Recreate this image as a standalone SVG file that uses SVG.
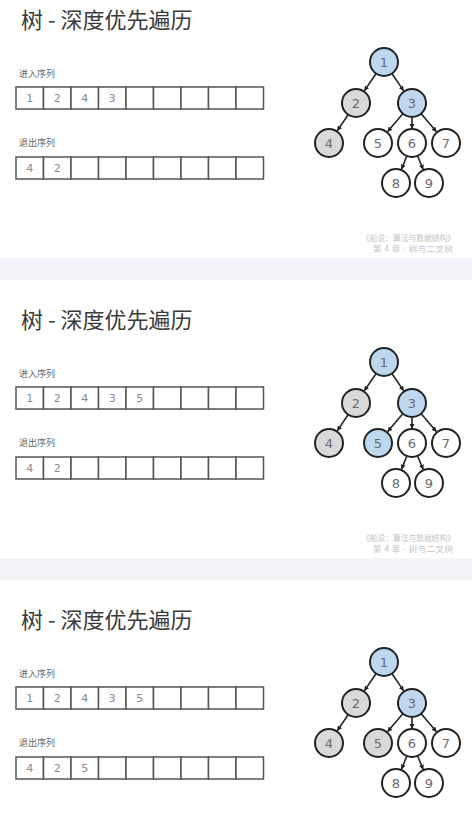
<svg xmlns="http://www.w3.org/2000/svg" width="472" height="817" viewBox="0 0 472 817">
<defs>
<style>
.title{font-family:"Noto Sans CJK SC","Noto Sans",sans-serif;font-size:22px;fill:#3a3a3a}
.lbl{font-family:"Noto Sans CJK SC","Noto Sans",sans-serif;font-size:9px;fill:#666}
.cell{fill:#fff;stroke:#555;stroke-width:1.5}
.cv{font-family:"DejaVu Sans",sans-serif;font-size:11px;fill:#8a8a8a;text-anchor:middle}
.nd{stroke:#222;stroke-width:2;fill:#fff}
.blue{fill:#bdd7ee}
.gray{fill:#d9d9d9}
.nt{font-family:"DejaVu Sans",sans-serif;font-size:13px;fill:#6a6a6a;text-anchor:middle}
.edge{stroke:#222;stroke-width:1.6;fill:none;marker-end:url(#ah)}
.foot{font-family:"Noto Sans CJK SC",serif;font-size:8.5px;fill:#c4c4c4;text-anchor:end}
.band{fill:#f4f5f9}
</style>
<marker id="ah" markerWidth="5" markerHeight="5" refX="4.5" refY="2.5" orient="auto" markerUnits="userSpaceOnUse">
<path d="M0,0 L5,2.5 L0,5 z" fill="#222"/>
</marker>
<g id="cells9">
<rect class="cell" x="16" y="0" width="27.5" height="22"/>
<rect class="cell" x="43.5" y="0" width="27.5" height="22"/>
<rect class="cell" x="71" y="0" width="27.5" height="22"/>
<rect class="cell" x="98.5" y="0" width="27.5" height="22"/>
<rect class="cell" x="126" y="0" width="27.5" height="22"/>
<rect class="cell" x="153.5" y="0" width="27.5" height="22"/>
<rect class="cell" x="181" y="0" width="27.5" height="22"/>
<rect class="cell" x="208.5" y="0" width="27.5" height="22"/>
<rect class="cell" x="236" y="0" width="27.5" height="22"/>
</g>
<g id="edges">
<line class="edge" x1="375.8" y1="74" x2="364.5" y2="90.6"/>
<line class="edge" x1="392.2" y1="74" x2="403.5" y2="90.6"/>
<line class="edge" x1="347.9" y1="115" x2="337.4" y2="130.6"/>
<line class="edge" x1="402.6" y1="114" x2="387.7" y2="131.6"/>
<line class="edge" x1="412" y1="117.5" x2="412" y2="128.5"/>
<line class="edge" x1="421.4" y1="114" x2="436.3" y2="131.6"/>
<line class="edge" x1="406.6" y1="156.5" x2="401.6" y2="169.1"/>
<line class="edge" x1="417.7" y1="156.3" x2="423.1" y2="169.2"/>
</g>
</defs>
<rect x="0" y="0" width="472" height="817" fill="#fff"/>
<rect class="band" x="0" y="258" width="472" height="22"/>
<rect class="band" x="0" y="558" width="472" height="22"/>

<!-- Panel 1 -->
<g id="panel1">
<text class="title" x="21" y="28">树 - 深度优先遍历</text>
<text class="lbl" x="19" y="76.5">进入序列</text>
<use href="#cells9" y="87"/>
<g class="cv"><text x="29.75" y="102">1</text><text x="57.25" y="102">2</text><text x="84.75" y="102">4</text><text x="112.25" y="102">3</text></g>
<text class="lbl" x="19" y="145.5">退出序列</text>
<use href="#cells9" y="157"/>
<g class="cv"><text x="29.75" y="172">4</text><text x="57.25" y="172">2</text></g>
<g id="p1-connectors"><use href="#edges"/></g>
<g id="p1-n1"><circle class="nd blue" cx="384" cy="62" r="14"/><text class="nt" x="384" y="66.5">1</text></g>
<g id="p1-n2"><circle class="nd gray" cx="356" cy="103" r="14"/><text class="nt" x="356" y="107.5">2</text></g>
<g id="p1-n3"><circle class="nd blue" cx="412" cy="103" r="14"/><text class="nt" x="412" y="107.5">3</text></g>
<g id="p1-n4"><circle class="nd gray" cx="329" cy="143" r="14"/><text class="nt" x="329" y="147.5">4</text></g>
<g id="p1-n5"><circle class="nd" cx="378" cy="143" r="14"/><text class="nt" x="378" y="147.5">5</text></g>
<g id="p1-n6"><circle class="nd" cx="412" cy="143" r="14"/><text class="nt" x="412" y="147.5">6</text></g>
<g id="p1-n7"><circle class="nd" cx="446" cy="143" r="14"/><text class="nt" x="446" y="147.5">7</text></g>
<g id="p1-n8"><circle class="nd" cx="396" cy="183" r="14"/><text class="nt" x="396" y="187.5">8</text></g>
<g id="p1-n9"><circle class="nd" cx="429" cy="183" r="14"/><text class="nt" x="429" y="187.5">9</text></g>
<text class="foot" x="455" y="241" textLength="93" lengthAdjust="spacingAndGlyphs">《船说：算法与数据结构》</text>
<text class="foot" x="453" y="252" textLength="80" lengthAdjust="spacing">第 4 章 - 树与二叉树</text>
</g>

<!-- Panel 2 -->
<g id="panel2" transform="translate(0,300)">
<text class="title" x="21" y="28">树 - 深度优先遍历</text>
<text class="lbl" x="19" y="76.5">进入序列</text>
<use href="#cells9" y="87"/>
<g class="cv"><text x="29.75" y="102">1</text><text x="57.25" y="102">2</text><text x="84.75" y="102">4</text><text x="112.25" y="102">3</text><text x="139.75" y="102">5</text></g>
<text class="lbl" x="19" y="145.5">退出序列</text>
<use href="#cells9" y="157"/>
<g class="cv"><text x="29.75" y="172">4</text><text x="57.25" y="172">2</text></g>
<g id="p2-connectors"><use href="#edges"/></g>
<g id="p2-n1"><circle class="nd blue" cx="384" cy="62" r="14"/><text class="nt" x="384" y="66.5">1</text></g>
<g id="p2-n2"><circle class="nd gray" cx="356" cy="103" r="14"/><text class="nt" x="356" y="107.5">2</text></g>
<g id="p2-n3"><circle class="nd blue" cx="412" cy="103" r="14"/><text class="nt" x="412" y="107.5">3</text></g>
<g id="p2-n4"><circle class="nd gray" cx="329" cy="143" r="14"/><text class="nt" x="329" y="147.5">4</text></g>
<g id="p2-n5"><circle class="nd blue" cx="378" cy="143" r="14"/><text class="nt" x="378" y="147.5">5</text></g>
<g id="p2-n6"><circle class="nd" cx="412" cy="143" r="14"/><text class="nt" x="412" y="147.5">6</text></g>
<g id="p2-n7"><circle class="nd" cx="446" cy="143" r="14"/><text class="nt" x="446" y="147.5">7</text></g>
<g id="p2-n8"><circle class="nd" cx="396" cy="183" r="14"/><text class="nt" x="396" y="187.5">8</text></g>
<g id="p2-n9"><circle class="nd" cx="429" cy="183" r="14"/><text class="nt" x="429" y="187.5">9</text></g>
<text class="foot" x="455" y="241" textLength="93" lengthAdjust="spacingAndGlyphs">《船说：算法与数据结构》</text>
<text class="foot" x="453" y="252" textLength="80" lengthAdjust="spacing">第 4 章 - 树与二叉树</text>
</g>

<!-- Panel 3 -->
<g id="panel3" transform="translate(0,600)">
<text class="title" x="21" y="28">树 - 深度优先遍历</text>
<text class="lbl" x="19" y="76.5">进入序列</text>
<use href="#cells9" y="87"/>
<g class="cv"><text x="29.75" y="102">1</text><text x="57.25" y="102">2</text><text x="84.75" y="102">4</text><text x="112.25" y="102">3</text><text x="139.75" y="102">5</text></g>
<text class="lbl" x="19" y="145.5">退出序列</text>
<use href="#cells9" y="157"/>
<g class="cv"><text x="29.75" y="172">4</text><text x="57.25" y="172">2</text><text x="84.75" y="172">5</text></g>
<g id="p3-connectors"><use href="#edges"/></g>
<g id="p3-n1"><circle class="nd blue" cx="384" cy="62" r="14"/><text class="nt" x="384" y="66.5">1</text></g>
<g id="p3-n2"><circle class="nd gray" cx="356" cy="103" r="14"/><text class="nt" x="356" y="107.5">2</text></g>
<g id="p3-n3"><circle class="nd blue" cx="412" cy="103" r="14"/><text class="nt" x="412" y="107.5">3</text></g>
<g id="p3-n4"><circle class="nd gray" cx="329" cy="143" r="14"/><text class="nt" x="329" y="147.5">4</text></g>
<g id="p3-n5"><circle class="nd gray" cx="378" cy="143" r="14"/><text class="nt" x="378" y="147.5">5</text></g>
<g id="p3-n6"><circle class="nd" cx="412" cy="143" r="14"/><text class="nt" x="412" y="147.5">6</text></g>
<g id="p3-n7"><circle class="nd" cx="446" cy="143" r="14"/><text class="nt" x="446" y="147.5">7</text></g>
<g id="p3-n8"><circle class="nd" cx="396" cy="183" r="14"/><text class="nt" x="396" y="187.5">8</text></g>
<g id="p3-n9"><circle class="nd" cx="429" cy="183" r="14"/><text class="nt" x="429" y="187.5">9</text></g>
</g>
</svg>
